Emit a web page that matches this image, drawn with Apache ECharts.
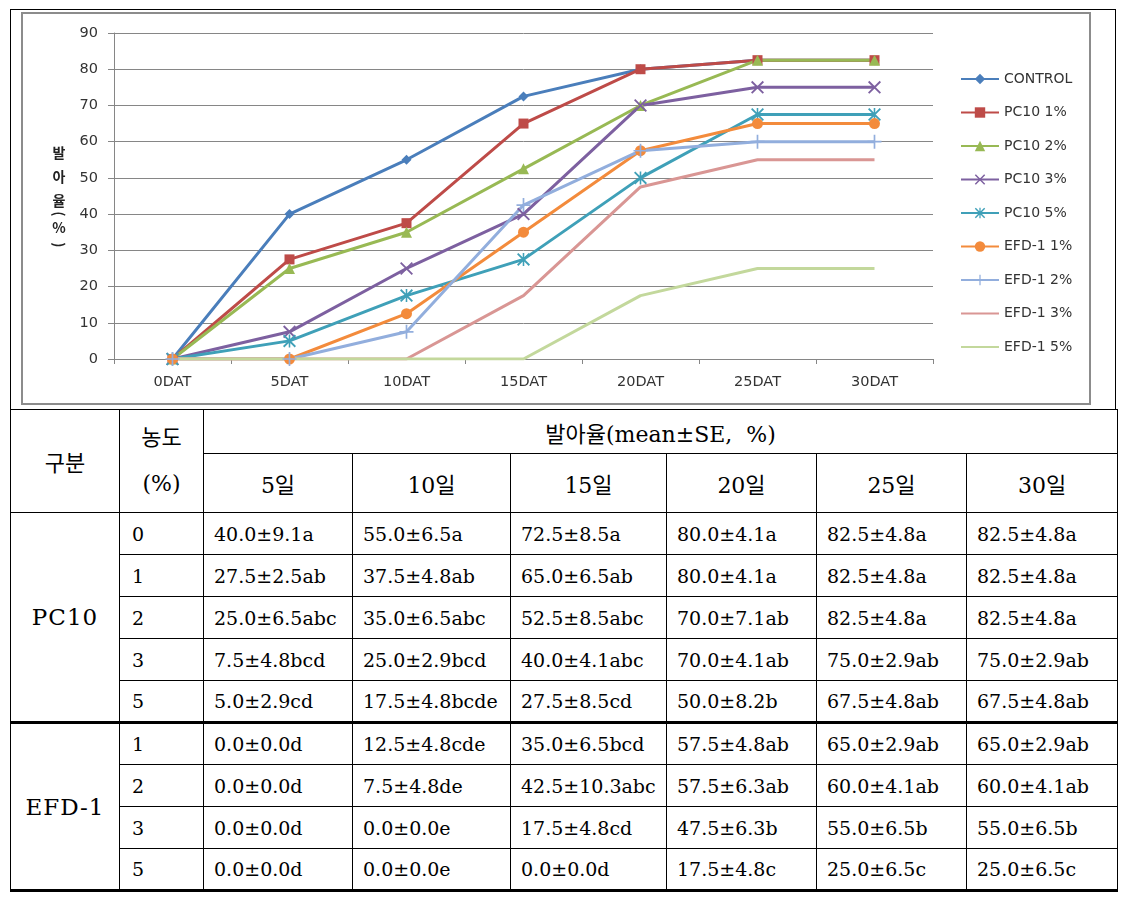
<!DOCTYPE html>
<html>
<head>
<meta charset="utf-8">
<script src="https://cdn.jsdelivr.net/npm/echarts@6/dist/echarts.min.js"></script>
<style>
  body { margin: 0; background: #fff; }
  #frame {
    position: absolute; left: 10px; top: 9px; width: 1106px; height: 401px;
    border: 1px solid #000; box-sizing: border-box;
  }
  #main { position: absolute; left: 0; top: 0; width: 1126px; height: 409px; }
  #tbl {
    position: absolute; left: 10px; top: 409px; width: 1107px;
    border-collapse: collapse; table-layout: fixed;
    font-family: "DejaVu Serif", "Noto Sans CJK KR", serif;
    font-size: 19px; color: #000;
  }
  #tbl td { border: 1px solid #000; padding: 0 0 0 10px; white-space: nowrap; overflow: hidden; }
  #tbl td.c { text-align: center; padding: 0; }
  #tbl td.h { font-size: 22px; }
  #tbl td.g { font-size: 23px; letter-spacing: 1px; }
  #tbl tr.data { height: 42px; }
  #tbl tr.thick td { border-top: 3px solid #000; }
  #tbl tr.last td, #tbl td.gb { border-bottom: 3px solid #000; }
</style>
</head>
<body>
<div id="frame"></div>
<div id="main"></div>
<table id="tbl"></table>

<script>
// 차트 데이터
const categories = ['0DAT', '5DAT', '10DAT', '15DAT', '20DAT', '25DAT', '30DAT']
const seriesNames = ['CONTROL', 'PC10 1%', 'PC10 2%', 'PC10 3%', 'PC10 5%', 'EFD-1 1%', 'EFD-1 2%', 'EFD-1 3%', 'EFD-1 5%']
const control = [0, 40, 55, 72.5, 80, 82.5, 82.5]
const pc10_1 = [0, 27.5, 37.5, 65, 80, 82.5, 82.5]
const pc10_2 = [0, 25, 35, 52.5, 70, 82.5, 82.5]
const pc10_3 = [0, 7.5, 25, 40, 70, 75, 75]
const pc10_5 = [0, 5, 17.5, 27.5, 50, 67.5, 67.5]
const efd_1 = [0, 0, 12.5, 35, 57.5, 65, 65]
const efd_2 = [0, 0, 7.5, 42.5, 57.5, 60, 60]
const efd_3 = [0, 0, 0, 17.5, 47.5, 55, 55]
const efd_5 = [0, 0, 0, 0, 17.5, 25, 25]
const yTicks = [0, 10, 20, 30, 40, 50, 60, 70, 80, 90]

// 표 데이터
const tableTitle = '발아율(mean±SE,&nbsp; %)'
const dayLabels = ['5일', '10일', '15일', '20일', '25일', '30일']
const pc10Rows = [
  ['0', '40.0±9.1a', '55.0±6.5a', '72.5±8.5a', '80.0±4.1a', '82.5±4.8a', '82.5±4.8a'],
  ['1', '27.5±2.5ab', '37.5±4.8ab', '65.0±6.5ab', '80.0±4.1a', '82.5±4.8a', '82.5±4.8a'],
  ['2', '25.0±6.5abc', '35.0±6.5abc', '52.5±8.5abc', '70.0±7.1ab', '82.5±4.8a', '82.5±4.8a'],
  ['3', '7.5±4.8bcd', '25.0±2.9bcd', '40.0±4.1abc', '70.0±4.1ab', '75.0±2.9ab', '75.0±2.9ab'],
  ['5', '5.0±2.9cd', '17.5±4.8bcde', '27.5±8.5cd', '50.0±8.2b', '67.5±4.8ab', '67.5±4.8ab']
]
const efdRows = [
  ['1', '0.0±0.0d', '12.5±4.8cde', '35.0±6.5bcd', '57.5±4.8ab', '65.0±2.9ab', '65.0±2.9ab'],
  ['2', '0.0±0.0d', '7.5±4.8de', '42.5±10.3abc', '57.5±6.3ab', '60.0±4.1ab', '60.0±4.1ab'],
  ['3', '0.0±0.0d', '0.0±0.0e', '17.5±4.8cd', '47.5±6.3b', '55.0±6.5b', '55.0±6.5b'],
  ['5', '0.0±0.0d', '0.0±0.0e', '0.0±0.0d', '17.5±4.8c', '25.0±6.5c', '25.0±6.5c']
]

const values = [control, pc10_1, pc10_2, pc10_3, pc10_5, efd_1, efd_2, efd_3, efd_5]
const colors = ['#4A7EBB', '#BE4B48', '#98B954', '#7D60A0', '#3FA0B8', '#F38B3C', '#92AEDD', '#D99694', '#C3D89C']

// 마커 모양 (x, *, +)
const crossPath = 'path://M0,1L1,0L10,9L9,10ZM9,0L10,1L1,10L0,9Z'
const starPath = 'path://M0,1L1,0L10,9L9,10ZM9,0L10,1L1,10L0,9ZM4.4,0L5.6,0L5.6,10L4.4,10Z'
const plusPath = 'path://M4.4,0L5.6,0L5.6,10L4.4,10ZM0,4.4L10,4.4L10,5.6L0,5.6Z'
const symbols = ['diamond', 'rect', 'triangle', crossPath, starPath, 'circle', plusPath, 'none', 'none']
const symbolSizes = [10, 10, 11, 13, 13, 11, 14, 0, 0]

const grey = '#868686'
const axisFont = 'DejaVu Sans, sans-serif'

const myChart = echarts.init(document.getElementById('main'))

const nameChars = [
  { t: '발', y: 153, r: 0 },
  { t: '아', y: 177, r: 0 },
  { t: '율', y: 201, r: 0 },
  { t: '(', y: 214, r: -Math.PI / 2 },
  { t: '%', y: 228, r: 0 },
  { t: ')', y: 245, r: -Math.PI / 2 }
]

myChart.setOption({
  animation: false,
  graphic: [
    {
      type: 'rect',
      shape: { x: 22, y: 13, width: 1068, height: 391 },
      style: { fill: 'none', stroke: '#8c8c8c', lineWidth: 2 },
      silent: true
    }
  ].concat(nameChars.map((c) => ({
    type: 'text',
    x: 59,
    y: c.y,
    rotation: c.r,
    style: {
      text: c.t,
      font: 'bold 14px "Noto Sans CJK KR", sans-serif',
      fill: '#222',
      align: 'center',
      verticalAlign: 'middle'
    }
  }))),
  legend: {
    orient: 'vertical',
    left: 955,
    top: 67,
    itemWidth: 38,
    itemHeight: 13,
    itemGap: 19.5,
    textStyle: { fontFamily: axisFont, fontSize: 14, color: '#333' },
    data: seriesNames.map((n, i) => (symbols[i] === 'none' ? { name: n, itemStyle: { opacity: 0 } } : n))
  },
  grid: {
    left: 114,
    right: 193,
    top: 33,
    bottom: 50
  },
  xAxis: {
    type: 'category',
    data: categories,
    axisLine: { lineStyle: { color: grey } },
    axisTick: { show: true, length: 5, lineStyle: { color: grey } },
    axisLabel: { margin: 16, fontFamily: axisFont, fontSize: 14.5, color: '#333' }
  },
  yAxis: {
    type: 'value',
    min: yTicks[0],
    max: yTicks[yTicks.length - 1],
    interval: 10,
    axisLine: { show: true, lineStyle: { color: grey } },
    axisTick: { show: true, length: 6, lineStyle: { color: grey } },
    axisLabel: { margin: 16, fontFamily: axisFont, fontSize: 14.5, color: '#333' },
    splitLine: { lineStyle: { color: grey, width: 1 } }
  },
  series: seriesNames.map((name, i) => ({
    name: name,
    type: 'line',
    data: values[i],
    symbol: symbols[i],
    symbolSize: symbolSizes[i],
    showAllSymbol: true,
    itemStyle: { color: colors[i] },
    lineStyle: { color: colors[i], width: 3 },
    emphasis: { disabled: true }
  }))
})

// 표 만들기
const tbl = document.getElementById('tbl')
let html = '<colgroup><col style="width:109px"><col style="width:84px"><col style="width:149px">' +
  '<col style="width:158px"><col style="width:156px"><col style="width:150px"><col style="width:150px"><col style="width:151px"></colgroup>'
html += '<tr style="height:44px"><td class="c h" rowspan="2">구분</td>' +
  '<td class="c h" rowspan="2" style="line-height:46px">농도<br>(%)</td>' +
  '<td class="c h" colspan="6">' + tableTitle + '</td></tr>'
html += '<tr style="height:59px">' + dayLabels.map((d) => '<td class="c h">' + d + '</td>').join('') + '</tr>'

const addGroup = (group, rows, extraClass) => {
  rows.forEach((r, i) => {
    let cls = 'data'
    if (i === 0 && extraClass) cls += ' ' + extraClass
    if (extraClass === 'thick' && i === rows.length - 1) cls += ' last'
    html += '<tr class="' + cls + '">'
    if (i === 0) {
      const gcls = extraClass === 'thick' ? 'c g gb' : 'c g'
      html += '<td class="' + gcls + '" rowspan="' + rows.length + '">' + group + '</td>'
    }
    html += '<td style="padding-left:12px">' + r[0] + '</td>'
    for (let k = 1; k < r.length; k++) html += '<td>' + r[k] + '</td>'
    html += '</tr>'
  })
}
addGroup('PC10', pc10Rows, '')
addGroup('EFD-1', efdRows, 'thick')
tbl.innerHTML = html
</script>
</body>
</html>
